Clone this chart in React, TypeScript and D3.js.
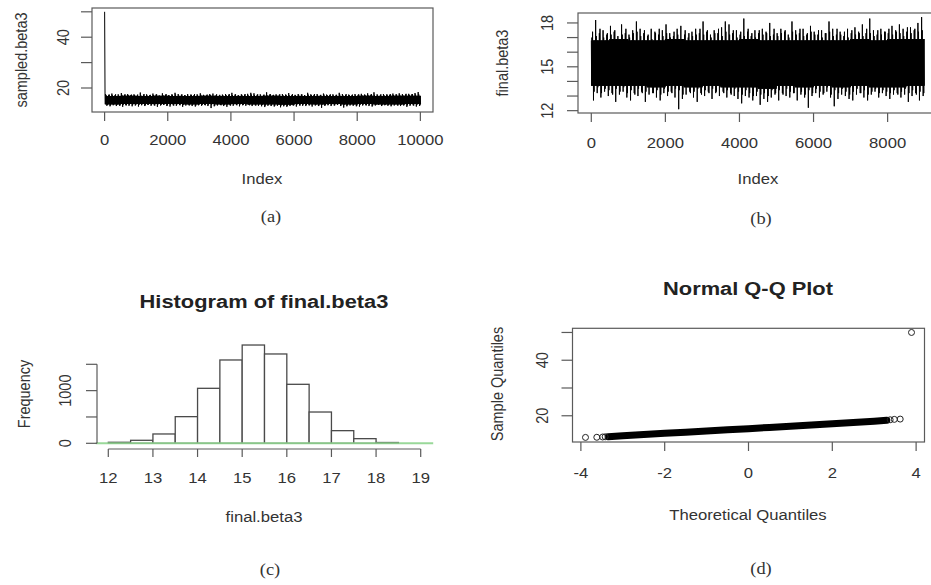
import React from "react";
import * as d3 from "d3";

// ---------- data ----------
// (b) final.beta3 trace, per 100-index bin: tallest spikes
const hiB = [
  17.0, 18.2, 17.3, 17.5, 17.2, 17.8, 17.4, 17.1, 17.9, 17.3,
  17.2, 17.5, 18.1, 17.6, 17.3, 17.1, 17.6, 17.4, 17.2, 17.5,
  17.9, 17.3, 17.1, 17.6, 17.8, 17.2, 17.0, 17.4, 17.6, 17.3,
  18.1, 17.4, 17.2, 17.5, 17.3, 17.7, 18.1, 17.9, 17.3, 17.5,
  17.2, 18.3, 17.4, 17.1, 17.5, 17.3, 17.6, 17.4, 18.0, 17.2,
  17.3, 17.6, 17.4, 17.2, 18.1, 17.5, 17.3, 17.6, 17.2, 17.8,
  17.4, 17.2, 17.5, 17.3, 18.1, 17.6, 17.2, 17.4, 17.1, 17.6,
  17.3, 17.7, 17.4, 17.9, 17.3, 18.3, 17.5, 17.2, 17.6, 17.4,
  17.3, 17.8, 17.5, 17.9, 17.6, 17.4, 17.7, 17.5, 18.0, 18.4,
];
const loB = [
  12.7, 13.2, 12.9, 13.3, 13.0, 13.2, 12.6, 13.1, 13.3, 12.9,
  12.7, 13.2, 13.0, 13.3, 12.6, 13.1, 13.2, 12.9, 12.7, 13.2,
  13.0, 13.3, 12.9, 12.1, 12.8, 13.1, 13.3, 12.9, 12.6, 13.2,
  13.0, 13.3, 12.8, 13.2, 13.0, 13.3, 12.9, 13.2, 13.0, 12.8,
  12.5, 13.0, 12.9, 12.7, 13.0, 12.4, 12.8, 12.6, 12.9, 13.1,
  12.7, 13.2, 13.0, 12.9, 13.2, 12.7, 13.1, 12.9, 12.2, 13.0,
  13.2, 12.9, 13.1, 13.3, 12.9, 12.3, 12.8, 13.1, 13.0, 12.8,
  12.7, 13.1, 13.2, 12.9, 12.7, 13.1, 13.3, 12.9, 13.2, 13.0,
  12.8, 13.1, 13.2, 12.9, 13.1, 12.6, 13.0, 13.2, 12.7, 13.0,
];
// (b) second-tier spikes per bin
const midHiB = [
  17.4, 17.1, 17.6, 17.0, 17.3, 17.2, 17.5, 16.9, 17.2, 17.6,
  17.0, 17.3, 17.4, 17.1, 17.5, 17.2, 16.9, 17.3, 17.6, 17.1,
  17.3, 17.0, 17.4, 17.2, 16.9, 17.5, 17.3, 17.1, 17.2, 17.6,
  17.2, 17.5, 17.0, 17.3, 17.6, 17.1, 17.4, 17.2, 17.5, 17.0,
  17.4, 17.1, 17.6, 17.3, 17.0, 17.5, 17.2, 17.3, 17.1, 17.6,
  17.1, 17.3, 17.5, 17.0, 17.4, 17.2, 17.6, 17.1, 17.3, 17.4,
  17.2, 17.5, 17.0, 17.3, 17.4, 17.1, 17.6, 17.2, 17.4, 17.0,
  17.5, 17.2, 17.3, 17.1, 17.6, 17.3, 17.1, 17.5, 17.2, 17.4,
  17.6, 17.2, 17.4, 17.3, 17.1, 17.7, 17.3, 17.6, 17.4, 17.5,
];
const midLoB = [
  13.3, 13.6, 13.2, 13.5, 13.4, 13.1, 13.5, 13.3, 13.6, 13.2,
  13.4, 13.1, 13.5, 13.2, 13.3, 13.6, 13.2, 13.4, 13.1, 13.5,
  13.3, 13.2, 13.5, 13.4, 13.1, 13.6, 13.2, 13.3, 13.5, 13.1,
  13.4, 13.2, 13.5, 13.3, 13.6, 13.2, 13.4, 13.1, 13.5, 13.3,
  13.1, 13.4, 13.2, 13.0, 13.3, 13.1, 13.2, 13.0, 13.4, 13.2,
  13.4, 13.1, 13.5, 13.3, 13.2, 13.6, 13.3, 13.1, 13.4, 13.2,
  13.5, 13.3, 13.2, 13.6, 13.1, 13.4, 13.2, 13.5, 13.3, 13.1,
  13.3, 13.5, 13.2, 13.4, 13.1, 13.3, 13.5, 13.2, 13.4, 13.3,
  13.2, 13.4, 13.1, 13.3, 13.5, 13.2, 13.4, 13.1, 13.3, 13.2,
];
// dense core of the trace, per 500-index block
const coreHiB = [16.8, 16.9, 16.8, 16.8, 16.9, 16.8, 16.8, 16.8, 16.9, 16.8, 16.8, 16.8, 16.8, 16.8, 16.9, 16.8, 16.9, 16.9];
const coreLoB = [13.7, 13.7, 13.7, 13.6, 13.7, 13.6, 13.7, 13.6, 13.6, 13.5, 13.7, 13.6, 13.7, 13.6, 13.7, 13.6, 13.6, 13.7];

// (a) sampled.beta3: burn-in start and first 1000 iterations
const burnStartA = [50];
const hiA0 = [17.6, 17.3, 17.8, 17.2, 17.5, 18.0, 17.3, 17.6, 17.2, 17.5];
const loA0 = [13.0, 12.8, 13.2, 12.9, 13.1, 12.6, 13.2, 13.0, 12.8, 13.1];
const midHiA0 = [17.2, 17.4, 17.1, 17.5, 17.0, 17.3, 17.5, 17.2, 17.4, 17.1];
const midLoA0 = [13.4, 13.2, 13.5, 13.3, 13.1, 13.4, 13.2, 13.5, 13.3, 13.4];
const coreHiA0 = [16.8, 16.9];
const coreLoA0 = [13.6, 13.7];

// (c) histogram of final.beta3
const histBreakStart = 12;
const histBinWidth = 0.5;
const histCounts = [19, 57, 177, 506, 1044, 1582, 1866, 1696, 1120, 594, 240, 88, 15];

// (d) normal Q-Q plot of sampled.beta3
const qqBandTheo = [-3.35, -3, -2.5, -2, -1.5, -1, -0.5, 0, 0.5, 1, 1.5, 2, 2.5, 3, 3.3];
const qqBandSample = [12.45, 12.8, 13.25, 13.7, 14.1, 14.5, 14.95, 15.35, 15.8, 16.2, 16.65, 17.1, 17.55, 18.05, 18.4];
const qqTailTheo = [-3.89, -3.62, -3.48, -3.42, 3.38, 3.48, 3.62, 3.89];
const qqTailSample = [12.2, 12.25, 12.35, 12.42, 18.55, 18.7, 18.8, 50];

// ticks
const ticksAx = [0, 2000, 4000, 6000, 8000, 10000];
const ticksAy = [20, 30, 40, 50];
const labelsAy = [20, 40];
const ticksBx = [0, 2000, 4000, 6000, 8000];
const ticksBy = [12, 13, 14, 15, 16, 17, 18];
const labelsBy = [12, 15, 18];
const ticksCx = [12, 13, 14, 15, 16, 17, 18, 19];
const ticksCy = [0, 500, 1000, 1500];
const labelsCy = [0, 1000];
const ticksDx = [-4, -2, 0, 2, 4];
const ticksDy = [20, 30, 40, 50];
const labelsDy = [20, 40];

// ---------- styling ----------
const SANS = "'Liberation Sans', Arial, sans-serif";
const SERIF = "'Liberation Serif', 'Times New Roman', serif";
const SX = 1.15;
const AXC = "#5a5a5a";
const TXC = "#333";
const FS = 14.5;

type TP = { x: number; y: number; children: React.ReactNode; size?: number; rot?: boolean; weight?: string; family?: string; fill?: string };
function Txt({ x, y, children, size = FS, rot = false, weight = "normal", family = SANS, fill = TXC }: TP) {
  const tf = `translate(${x},${y}) scale(${SX},1)` + (rot ? " rotate(-90)" : "");
  return (
    <text transform={tf} textAnchor="middle" dominantBaseline="central" fontSize={size} fontWeight={weight} fontFamily={family} fill={fill}>
      {children}
    </text>
  );
}

function tracePoints(
  hi: number[], lo: number[], mHi: number[], mLo: number[],
  cHi: number[], cLo: number[], start: number
): [number, number][] {
  const pts: [number, number][] = [];
  hi.forEach((h, k) => {
    const b = Math.floor(k / 5);
    const ch = cHi[b];
    const cl = cLo[b];
    const seq = [ch, cl, h, cl, mHi[k], cl, ch, lo[k], ch, mLo[k], ch, cl];
    const step = 100 / seq.length;
    seq.forEach((v, j) => pts.push([start + k * 100 + j * step, v]));
  });
  return pts;
}

export default function App() {
  // ---- panel A ----
  const xA = d3.scaleLinear().domain([-399, 10400]).range([92, 433]);
  const yA = d3.scaleLinear().domain([10.55, 51.5]).range([112, 8]);
  const ptsA: [number, number][] = [
    [1, burnStartA[0]],
    ...tracePoints(
      [...hiA0, ...hiB], [...loA0, ...loB], [...midHiA0, ...midHiB], [...midLoA0, ...midLoB],
      [...coreHiA0, ...coreHiB], [...coreLoA0, ...coreLoB], 14
    ),
  ];
  const lineA = d3.line<[number, number]>().x((d) => xA(d[0])).y((d) => yA(d[1]));

  // ---- panel B ----
  const xB = d3.scaleLinear().domain([-359, 9360]).range([578, 938]);
  const yB = d3.scaleLinear().domain([11.84, 18.68]).range([113, 13]);
  const ptsB = tracePoints(hiB, loB, midHiB, midLoB, coreHiB, coreLoB, 1);
  const lineB = d3.line<[number, number]>().x((d) => xB(d[0])).y((d) => yB(d[1]));

  // ---- panel C ----
  const xC = d3.scaleLinear().domain([11.72, 19.28]).range([95.8, 433.2]);
  const yC = d3.scaleLinear().domain([0, 1500]).range([443.3, 364.3]);

  // ---- panel D ----
  const xD = d3.scaleLinear().domain([-4.2, 4.2]).range([572.5, 924.5]);
  const yD = d3.scaleLinear().domain([10.55, 51.5]).range([442, 328.3]);
  const bandPts: [number, number][] = qqBandTheo.map((t, i) => [t, qqBandSample[i]]);
  const lineD = d3.line<[number, number]>().x((d) => xD(d[0])).y((d) => yD(d[1]));

  return (
    <svg width={931} height={585} style={{ position: "absolute", left: 0, top: 0, background: "#fff" }}>
      <rect x={0} y={0} width={931} height={585} fill="#fff" />

      {/* ================= (a) ================= */}
      <path d={lineA(ptsA) || ""} fill="none" stroke="#000" strokeWidth={1} />
      <rect x={92} y={8} width={341} height={104} fill="none" stroke={AXC} strokeWidth={1.2} />
      {ticksAx.map((t) => (
        <g key={"ax" + t}>
          <line x1={xA(t)} x2={xA(t)} y1={112} y2={121} stroke={AXC} strokeWidth={1.2} />
          <Txt x={xA(t)} y={140}>{t}</Txt>
        </g>
      ))}
      {ticksAy.map((t) => (
        <line key={"ay" + t} x1={92} x2={81} y1={yA(t)} y2={yA(t)} stroke={AXC} strokeWidth={1.2} />
      ))}
      {labelsAy.map((t) => (
        <Txt key={"aly" + t} x={63} y={yA(t)} rot>{t}</Txt>
      ))}
      <Txt x={21} y={60} rot>sampled.beta3</Txt>
      <Txt x={262} y={179}>Index</Txt>
      <Txt x={271} y={217} family={SERIF} size={16}>(a)</Txt>

      {/* ================= (b) ================= */}
      <path d={lineB(ptsB) || ""} fill="none" stroke="#000" strokeWidth={1} />
      <rect x={578} y={13} width={360} height={100} fill="none" stroke={AXC} strokeWidth={1.2} />
      {ticksBx.map((t) => (
        <g key={"bx" + t}>
          <line x1={xB(t)} x2={xB(t)} y1={113} y2={122} stroke={AXC} strokeWidth={1.2} />
          <Txt x={xB(t)} y={143}>{t}</Txt>
        </g>
      ))}
      {ticksBy.map((t) => (
        <line key={"by" + t} x1={578} x2={567} y1={yB(t)} y2={yB(t)} stroke={AXC} strokeWidth={1.2} />
      ))}
      {labelsBy.map((t) => (
        <Txt key={"bly" + t} x={547} y={yB(t)} rot>{t}</Txt>
      ))}
      <Txt x={502} y={63} rot>final.beta3</Txt>
      <Txt x={758} y={179}>Index</Txt>
      <Txt x={761} y={219} family={SERIF} size={16}>(b)</Txt>

      {/* ================= (c) ================= */}
      <Txt x={264} y={301} size={19} weight="bold" fill="#222">Histogram of final.beta3</Txt>
      {histCounts.map((c, i) => {
        const x0 = histBreakStart + i * histBinWidth;
        return (
          <rect
            key={"h" + i}
            x={xC(x0)}
            y={yC(c)}
            width={xC(x0 + histBinWidth) - xC(x0)}
            height={yC(0) - yC(c)}
            fill="#fff"
            stroke="#4a4a4a"
            strokeWidth={1.3}
          />
        );
      })}
      <line x1={95.8} x2={433.2} y1={yC(0)} y2={yC(0)} stroke="#8fd48f" strokeWidth={2} opacity={0.9} />
      <line x1={xC(12)} x2={xC(19)} y1={449} y2={449} stroke={AXC} strokeWidth={1.2} />
      {ticksCx.map((t) => (
        <g key={"cx" + t}>
          <line x1={xC(t)} x2={xC(t)} y1={449} y2={457} stroke={AXC} strokeWidth={1.2} />
          <Txt x={xC(t)} y={478}>{t}</Txt>
        </g>
      ))}
      <line x1={97} x2={97} y1={yC(0)} y2={yC(1500)} stroke={AXC} strokeWidth={1.2} />
      {ticksCy.map((t) => (
        <line key={"cy" + t} x1={97} x2={86} y1={yC(t)} y2={yC(t)} stroke={AXC} strokeWidth={1.2} />
      ))}
      {labelsCy.map((t) => (
        <Txt key={"cly" + t} x={65} y={yC(t)} rot>{t}</Txt>
      ))}
      <Txt x={24} y={394} rot>Frequency</Txt>
      <Txt x={264} y={517}>final.beta3</Txt>
      <Txt x={270} y={570} family={SERIF} size={16}>(c)</Txt>

      {/* ================= (d) ================= */}
      <Txt x={748} y={288} size={19} weight="bold" fill="#222">Normal Q-Q Plot</Txt>
      <path d={lineD(bandPts) || ""} fill="none" stroke="#000" strokeWidth={7} strokeLinecap="round" />
      {qqTailTheo.map((t, i) => (
        <circle key={"q" + i} cx={xD(t)} cy={yD(qqTailSample[i])} r={3} fill="none" stroke="#222" strokeWidth={1} />
      ))}
      <rect x={572.5} y={328.3} width={352} height={113.7} fill="none" stroke={AXC} strokeWidth={1.2} />
      {ticksDx.map((t) => (
        <g key={"dx" + t}>
          <line x1={xD(t)} x2={xD(t)} y1={442} y2={451} stroke={AXC} strokeWidth={1.2} />
          <Txt x={xD(t)} y={473}>{t}</Txt>
        </g>
      ))}
      {ticksDy.map((t) => (
        <line key={"dy" + t} x1={572.5} x2={561.5} y1={yD(t)} y2={yD(t)} stroke={AXC} strokeWidth={1.2} />
      ))}
      {labelsDy.map((t) => (
        <Txt key={"dly" + t} x={542} y={yD(t)} rot>{t}</Txt>
      ))}
      <Txt x={497} y={384} rot>Sample Quantiles</Txt>
      <Txt x={748} y={515}>Theoretical Quantiles</Txt>
      <Txt x={761} y={569} family={SERIF} size={16}>(d)</Txt>
    </svg>
  );
}
